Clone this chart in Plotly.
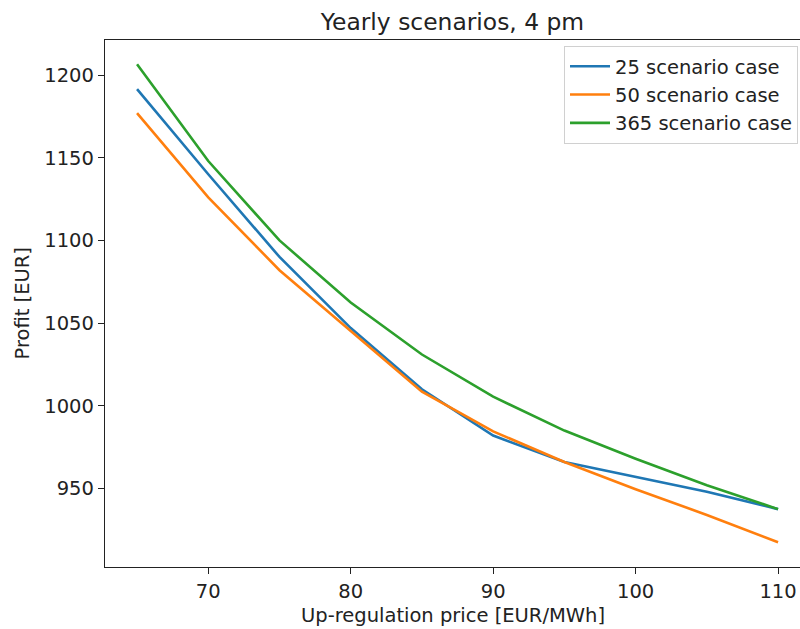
import plotly.graph_objects as go

prices = [65, 70, 75, 80, 85, 90, 95, 100, 105, 110]
profit_25 = [1191.5, 1140, 1090, 1047, 1010, 982, 966, 957, 948, 937.5]
profit_50 = [1177, 1126, 1082, 1045, 1008.5, 984.5, 966, 949.5, 934, 917.5]
profit_365 = [1206.5, 1148, 1100, 1062.5, 1031, 1005.5, 985, 968, 952, 937.5]
series_names = ["25 scenario case", "50 scenario case", "365 scenario case"]
colors = ["#1f77b4", "#ff7f0e", "#2ca02c"]

FONT = "DejaVu Sans"
FS = 19.5

fig = go.Figure()
for name, vals, col in zip(series_names, [profit_25, profit_50, profit_365], colors):
    fig.add_trace(go.Scatter(x=prices, y=vals, mode="lines", name=name, legendgroup=name,
                             line=dict(color=col, width=2.6)))

axis_common = dict(
    showgrid=False, zeroline=False, showline=True, linecolor="#222", linewidth=1.3,
    ticks="outside", ticklen=6, tickwidth=1.3, tickcolor="#222",
    tickfont=dict(family=FONT, size=FS, color="#222"),
    ticklabeloverflow="allow",
)

W, H = 800, 629
L, T, B = 105, 40, 62
PW, PH = W - L, H - T - B
fig.update_layout(
    width=W, height=H,
    margin=dict(l=L, r=0, t=T, b=B),
    paper_bgcolor="white", plot_bgcolor="white",
    font=dict(family=FONT, color="#222"),
    title=dict(text="Yearly scenarios, 4 pm", x=0.5, xref="paper", xanchor="center",
               y=1 - 22 / H, yanchor="middle", yref="container",
               font=dict(family=FONT, size=23.4, color="#222")),
    xaxis=dict(range=[62.75, 111.54], tickvals=[70, 80, 90, 100, 110], mirror=True,
               automargin=False, **axis_common),
    yaxis=dict(range=[902.5, 1221.2], tickvals=[950, 1000, 1050, 1100, 1150, 1200], mirror=False,
               automargin=False, **axis_common),
    annotations=[
        dict(text="Profit [EUR]", textangle=-90, xref="paper", yref="paper",
             x=-(L - 22) / PW, y=0.5, xanchor="center", yanchor="middle", showarrow=False,
             font=dict(family=FONT, size=FS, color="#222")),
        dict(text="Up-regulation price [EUR/MWh]", xref="paper", yref="paper",
             x=0.5, y=-(615 - (T + PH)) / PH, xanchor="center", yanchor="middle",
             showarrow=False, font=dict(family=FONT, size=FS, color="#222")),
    ],
    legend=dict(x=(798 - L) / PW, xanchor="right", y=1 - (46 - T) / PH, yanchor="top",
                bgcolor="rgba(255,255,255,0.8)", bordercolor="#d0d0d0", borderwidth=1,
                font=dict(family=FONT, size=FS, color="#222"),
                tracegroupgap=0, itemwidth=40),
    showlegend=True,
)

fig.write_html("out.html", config={"displayModeBar": False},
               post_script="document.body.style.margin='0';document.body.style.overflow='hidden';")
